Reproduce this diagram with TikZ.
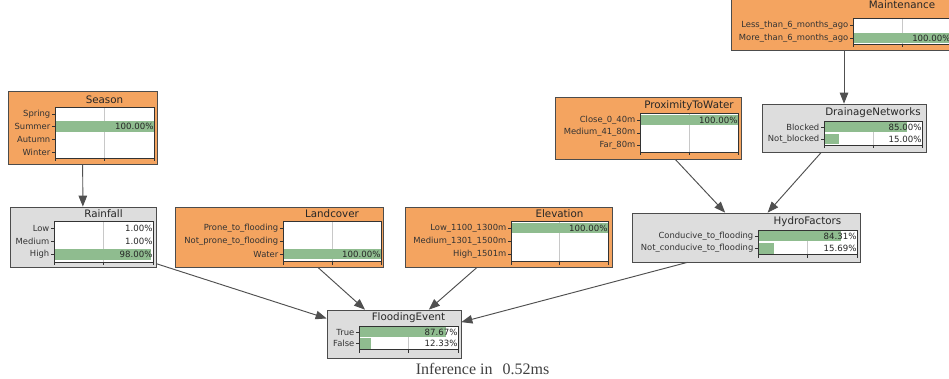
\documentclass[tikz,border=0pt]{standalone}
\usepackage{fontspec}
\setmainfont{DejaVu Sans}
\newfontfamily\captionserif{Liberation Serif}
\usetikzlibrary{arrows.meta,shadows}

\definecolor{nodeorange}{RGB}{244,164,96}
\definecolor{nodegray}{RGB}{221,221,221}
\definecolor{bargreen}{RGB}{143,188,143}
\definecolor{edgegray}{RGB}{80,80,80}
\definecolor{gridgray}{RGB}{200,200,200}

\tikzset{
  bnbox/.style={rectangle, draw=black!70, line width=0.7pt, inner sep=0pt,
    drop shadow={shadow xshift=1.1pt, shadow yshift=-1.1pt, fill=black!70, opacity=1}},
  evidence/.style={bnbox, fill=nodeorange},
  inferred/.style={bnbox, fill=nodegray},
  axisline/.style={draw=black!80, line width=0.5pt},
  gridline/.style={draw=gridgray, line width=0.6pt},
  statelbl/.style={anchor=east, inner sep=0pt, text=black!80, font=\fontsize{8.4}{9}\selectfont},
  pctlbl/.style={anchor=east, inner sep=0pt, text=black!85, font=\fontsize{8.6}{9}\selectfont},
  titlelbl/.style={inner sep=0pt, text=black!85, font=\fontsize{10.3}{11}\selectfont},
  edge/.style={draw=edgegray, line width=0.95pt, -{Triangle[length=11pt,width=8.5pt]}},
}

% white plot area with the vertical grid line at 50%
\newcommand{\bnaxes}[4]{%
  \fill[white] (#1,#3) rectangle (#2,#4);
  \draw[gridline] ({(#1+#2)/2},#3) -- ({(#1+#2)/2},#4);
}
% plot frame and the three ticks under it
\newcommand{\bnframe}[4]{%
  \draw[axisline] (#1,#3) rectangle (#2,#4);
  \draw[axisline] (#1,#4) -- (#1,{#4+3});
  \draw[axisline] ({(#1+#2)/2},#4) -- ({(#1+#2)/2},{#4+3});
  \draw[axisline] (#2,#4) -- (#2,{#4+3});
}
% one state: plot left, plot right, row centre, name, probability, printed value
\newcommand{\bnstate}[6]{%
  \fill[bargreen] (#1,{#3-5.2}) rectangle ({#1+(#2-#1)*#5},{#3+5.2});
  \draw[axisline] ({#1-3},#3) -- (#1,#3);
  \node[statelbl] at ({#1-4.5},#3) {#4};
  \node[pctlbl] at ({#2-0.3},#3) {#6};
}

\begin{document}
\begin{tikzpicture}[x=1pt, y=-1pt]
\path[use as bounding box, clip] (0,0) rectangle (949,379);

% ---------- Season ----------
\node[evidence, minimum width=149pt, minimum height=73pt] (season) at (82.5,127.5) {};
\node[titlelbl] at (104.5,100) {Season};
\bnaxes{55}{154}{107.7}{158}
\bnstate{55}{154}{114}{Spring}{0}{}
\bnstate{55}{154}{126.7}{Summer}{1}{100.00\%}
\bnstate{55}{154}{139.4}{Autumn}{0}{}
\bnstate{55}{154}{152}{Winter}{0}{}
\bnframe{55}{154}{107.7}{158}

% ---------- Rainfall ----------
\node[inferred, minimum width=146pt, minimum height=60pt] (rainfall) at (83,237) {};
\node[titlelbl] at (103.5,214) {Rainfall};
\bnaxes{54}{153}{221.5}{262}
\bnstate{54}{153}{228}{Low}{0.01}{1.00\%}
\bnstate{54}{153}{241.3}{Medium}{0.01}{1.00\%}
\bnstate{54}{153}{254.6}{High}{0.98}{98.00\%}
\bnframe{54}{153}{221.5}{262}

% ---------- Landcover ----------
\node[evidence, minimum width=208pt, minimum height=60pt] (landcover) at (279,237) {};
\node[titlelbl] at (332,214) {Landcover};
\bnaxes{283}{381}{221.5}{261.5}
\bnstate{283}{381}{228}{Prone\_to\_flooding}{0}{}
\bnstate{283}{381}{241}{Not\_prone\_to\_flooding}{0}{}
\bnstate{283}{381}{254.2}{Water}{1}{100.00\%}
\bnframe{283}{381}{221.5}{261.5}

% ---------- Elevation ----------
\node[evidence, minimum width=207pt, minimum height=60pt] (elevation) at (508.5,237) {};
\node[titlelbl] at (559.5,214) {Elevation};
\bnaxes{511}{608}{221.5}{261.5}
\bnstate{511}{608}{228}{Low\_1100\_1300m}{1}{100.00\%}
\bnstate{511}{608}{241}{Medium\_1301\_1500m}{0}{}
\bnstate{511}{608}{254.2}{High\_1501m}{0}{}
\bnframe{511}{608}{221.5}{261.5}

% ---------- ProximityToWater ----------
\node[evidence, minimum width=186pt, minimum height=62pt] (proximity) at (648,128) {};
\node[titlelbl] at (689,106) {ProximityToWater};
\bnaxes{640}{738}{113.6}{152}
\bnstate{640}{738}{120}{Close\_0\_40m}{1}{100.00\%}
\bnstate{640}{738}{132.8}{Medium\_41\_80m}{0}{}
\bnstate{640}{738}{145.6}{Far\_80m}{0}{}
\bnframe{640}{738}{113.6}{152}

% ---------- Maintenance (runs past the top and right edges) ----------
\node[evidence, minimum width=226pt, minimum height=58pt] (maintenance) at (844,21) {};
\node[titlelbl] at (902,5) {Maintenance};
\bnaxes{853}{951}{18.5}{44}
\bnstate{853}{951}{25}{Less\_than\_6\_months\_ago}{0}{}
\bnstate{853}{951}{38}{More\_than\_6\_months\_ago}{1}{100.00\%}
\bnframe{853}{951}{18.5}{44}

% ---------- DrainageNetworks ----------
\node[inferred, minimum width=164pt, minimum height=48pt] (drainage) at (844,128) {};
\node[titlelbl] at (873,112.5) {DrainageNetworks};
\bnaxes{824}{922}{121.3}{145.5}
\bnstate{824}{922}{127.3}{Blocked}{0.85}{85.00\%}
\bnstate{824}{922}{139.3}{Not\_blocked}{0.15}{15.00\%}
\bnframe{824}{922}{121.3}{145.5}

% ---------- HydroFactors ----------
\node[inferred, minimum width=228pt, minimum height=49pt] (hydro) at (746,237.5) {};
\node[titlelbl] at (807.5,222) {HydroFactors};
\bnaxes{758}{857}{229.9}{254.5}
\bnstate{758}{857}{236}{Conducive\_to\_flooding}{0.8431}{84.31\%}
\bnstate{758}{857}{248.3}{Not\_conducive\_to\_flooding}{0.1569}{15.69\%}
\bnframe{758}{857}{229.9}{254.5}

% ---------- FloodingEvent ----------
\node[inferred, minimum width=134pt, minimum height=48pt] (flood) at (394,334) {};
\node[titlelbl] at (408.5,317.5) {FloodingEvent};
\bnaxes{359}{458}{326.2}{349.5}
\bnstate{359}{458}{332}{True}{0.8767}{87.67\%}
\bnstate{359}{458}{343.5}{False}{0.1233}{12.33\%}
\bnframe{359}{458}{326.2}{349.5}

% ---------- dependencies ----------
\draw[edge] (season) -- (rainfall);
\draw[edge] (drainage.north |- maintenance.south) -- (drainage.north);
\draw[edge] (proximity.-49) -- (hydro.130);
\draw[edge] (drainage.227) -- (hydro.49);
\draw[edge] (rainfall.-20) -- (flood.167);
\draw[edge] (landcover.-38) -- (flood.140);
\draw[edge] (elevation.224) -- (flood.35);
\draw[edge] (hydro.203) -- (flood.10);

% ---------- timing ----------
\node[inner sep=0pt, text=black!75, font=\captionserif\fontsize{16}{18}\selectfont] (timing) at (482.5,369) {Inference in\hspace{10pt}0.52ms};
\end{tikzpicture}
\end{document}
